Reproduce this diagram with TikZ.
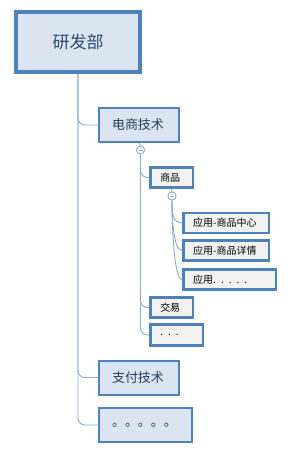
\documentclass[tikz,border=0pt]{standalone}
\usepackage{fontspec}
\newfontfamily\cjk{Noto Sans CJK SC}
\usetikzlibrary{positioning}
\definecolor{boxblue}{HTML}{4F81BD}
\definecolor{lightfill}{HTML}{DBE5F1}
\definecolor{grayfill}{HTML}{F2F2F2}
\definecolor{linkblue}{HTML}{8FAACB}
\definecolor{titleblue}{HTML}{2E4A70}
\tikzset{
  rootbox/.style={draw=boxblue,line width=4pt,fill=lightfill,minimum width=124pt,minimum height=60pt,inner sep=0pt,font=\cjk\fontsize{17}{20}\selectfont,text=titleblue},
  deptbox/.style={draw=boxblue,line width=2pt,fill=lightfill,minimum height=34pt,inner xsep=13pt,inner ysep=0pt,align=left,font=\cjk\fontsize{13}{16}\selectfont,text=titleblue!85!black},
  itembox/.style={draw=boxblue,line width=2.5pt,fill=grayfill,minimum height=20pt,inner xsep=10pt,inner ysep=0pt,align=left,font=\cjk\fontsize{10}{12}\selectfont,text=black},
  link/.style={draw=linkblue,line width=0.9pt,rounded corners=7pt},
  fold/.style={circle,draw=linkblue,line width=0.8pt,fill=white,minimum size=8pt,inner sep=0pt}
}

\begin{document}
\begin{tikzpicture}[x=1pt,y=-1pt]
\useasboundingbox (0,0) rectangle (299,459);
% top level
\node[rootbox] (yfb) at (78,42) {研发部};
% departments
\node[deptbox,text width=54pt] (dsjs) at (139,125) {电商技术};
\node[deptbox,text width=54pt] (zfjs) at (139,377.5) {支付技术};
\node[deptbox,text width=67pt,minimum height=34pt] (deptmore) at (145.5,425) {。。。。。};
% items under 电商技术
\node[fold] (fold1) at (140.5,150) {};
\node[itembox,text width=22.5pt] (sp) at (171.5,177.5) {商品};
\node[itembox,text width=22.5pt] (jy) at (171.5,307.5) {交易};
\node[itembox,text width=32.5pt,minimum height=21pt] (itemmore) at (176.5,335) {. . .};
% apps under 商品
\node[fold] (fold2) at (172,196) {};
\node[itembox,text width=65.5pt] (app1) at (226,223) {应用-商品中心};
\node[itembox,text width=65.5pt] (app2) at (226,250.5) {应用-商品详情};
\node[itembox,text width=72.5pt] (app3) at (229.5,279.5) {应用. . . . .};

\foreach \n in {dsjs,zfjs,deptmore}
  \draw[link] (yfb.south) |- (\n.west);
\draw[link] (dsjs.south) -- (fold1.north);
\foreach \n in {sp,jy,itemmore}
  \draw[link] (fold1.south) |- (\n.west);
\draw[link] (sp.south) -- (fold2.north);
\foreach \n in {app1,app2,app3}
  \draw[link] (fold2.south) .. controls +(0,14) and +(-9,0) .. (\n.west);
% fold markers
\node[fold] at (fold1) {};
\node[fold] at (fold2) {};
\draw[linkblue,line width=0.7pt] ([xshift=-2pt]fold1.center) -- ([xshift=2pt]fold1.center);
\draw[linkblue,line width=0.7pt] ([xshift=-2pt]fold2.center) -- ([xshift=2pt]fold2.center);
\end{tikzpicture}
\end{document}
